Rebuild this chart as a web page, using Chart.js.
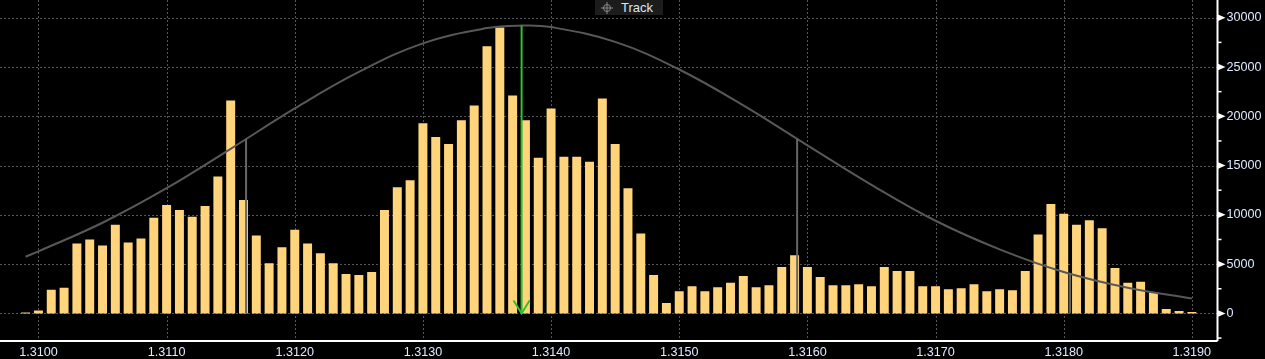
<!DOCTYPE html>
<html><head><meta charset="utf-8">
<script src="https://cdn.jsdelivr.net/npm/chart.js@4.4.0/dist/chart.umd.min.js"></script>
<style>
html,body{margin:0;padding:0;background:#000;overflow:hidden}
#wrap{position:relative;width:1265px;height:359px}
#track{position:absolute;left:595px;top:0;width:68px;height:15px;background:#1c1c1c;font:13px "Liberation Sans",Arial,sans-serif;color:#dfe6ef;line-height:15px}
#track svg{position:absolute;left:5px;top:1px}
#track span{position:absolute;left:26px;top:0}
</style></head><body>
<div id="wrap"><canvas id="c" width="1265" height="359"></canvas>
<div id="track"><svg width="14" height="14" viewBox="0 0 14 14"><circle cx="7" cy="7" r="3.5" fill="none" stroke="#8a8a8a" stroke-width="1"/><line x1="7" y1="1" x2="7" y2="13" stroke="#8a8a8a" stroke-width="1"/><line x1="1" y1="7" x2="13" y2="7" stroke="#8a8a8a" stroke-width="1"/></svg><span>Track</span></div></div>
<script>
const prices = [1.3099,
 1.3100,1.3101,1.3102,1.3103,1.3104,1.3105,1.3106,1.3107,1.3108,1.3109,
 1.3110,1.3111,1.3112,1.3113,1.3114,1.3115,1.3116,1.3117,1.3118,1.3119,
 1.3120,1.3121,1.3122,1.3123,1.3124,1.3125,1.3126,1.3127,1.3128,1.3129,
 1.3130,1.3131,1.3132,1.3133,1.3134,1.3135,1.3136,1.3137,1.3138,1.3139,
 1.3140,1.3141,1.3142,1.3143,1.3144,1.3145,1.3146,1.3147,1.3148,1.3149,
 1.3150,1.3151,1.3152,1.3153,1.3154,1.3155,1.3156,1.3157,1.3158,1.3159,
 1.3160,1.3161,1.3162,1.3163,1.3164,1.3165,1.3166,1.3167,1.3168,1.3169,
 1.3170,1.3171,1.3172,1.3173,1.3174,1.3175,1.3176,1.3177,1.3178,1.3179,
 1.3180,1.3181,1.3182,1.3183,1.3184,1.3185,1.3186,1.3187,1.3188,1.3189,
 1.3190];
const volumes = [100,
 300,2400,2600,7100,7500,6900,9000,7200,7600,9700,
 11000,10500,9800,10900,13900,21600,11500,7900,5100,6700,
 8500,7100,6100,5100,4000,3900,4200,10500,12800,13500,
 19300,17900,17200,19600,21100,27100,29000,22100,19600,15800,
 20800,15900,15900,15400,21800,17200,12700,8100,3900,1050,
 2250,2750,2250,2650,3100,3800,2650,2850,4700,5900,
 4700,3700,2850,2850,2950,2750,4700,4300,4300,2750,
 2750,2450,2550,2950,2250,2450,2350,4300,8000,11100,
 10100,9000,9450,8650,4600,3100,3200,2150,450,250,
 150];
const curveX = [1.3099,1.3100,1.3105,1.3110,1.3115,1.3120,1.3125,1.3130,1.3135,1.31377,1.3140,1.3145,1.3150,1.3155,1.3160,1.3165,1.3170,1.3175,1.3180,1.3185,1.3190];
const curveY = [5750,6300,9200,12700,16700,20800,24500,27400,28950,29200,29050,27550,24750,21100,17050,13050,9400,6500,4200,2600,1520];
const sigmaX = [1.31162,1.31592,1.31805];
const sigmaY = [17700,17700,4100];
const meanX = 1.31377, meanY = 29200;
const xTicks = [1.3100,1.3110,1.3120,1.3130,1.3140,1.3150,1.3160,1.3170,1.3180,1.3190];
const yTicks = [-2500,0,2500,5000,7500,10000,12500,15000,17500,20000,22500,25000,27500,30000];

const FONT = {family:'"Liberation Sans", Arial, sans-serif', size:12.6};
const TXT = '#dfeaff';

function zeroPad(s){s.paddingTop=0;s.paddingBottom=0;s.paddingLeft=0;s.paddingRight=0;}

const deco = {
  id:'deco',
  beforeDatasetsDraw(chart){
    const {ctx, chartArea:a, scales:{x,y}} = chart;
    ctx.save();
    ctx.strokeStyle='#555'; ctx.lineWidth=1; ctx.setLineDash([2,2]);
    xTicks.forEach(v=>{const px=Math.round(x.getPixelForValue(v))+0.5;ctx.beginPath();ctx.moveTo(px,a.top);ctx.lineTo(px,a.bottom+3);ctx.stroke();});
    yTicks.filter(v=>v%5000===0).forEach(v=>{const py=Math.round(y.getPixelForValue(v))+0.5;ctx.beginPath();ctx.moveTo(a.left,py);ctx.lineTo(a.right,py);ctx.stroke();});
    ctx.restore();
  },
  afterDatasetsDraw(chart){
    const {ctx, scales:{x,y}} = chart;
    ctx.save();
    ctx.strokeStyle='#666'; ctx.lineWidth=2;
    sigmaX.forEach((v,i)=>{const px=x.getPixelForValue(v);ctx.beginPath();ctx.moveTo(px,y.getPixelForValue(0));ctx.lineTo(px,y.getPixelForValue(sigmaY[i]));ctx.stroke();});
    const mx=x.getPixelForValue(meanX), y0=y.getPixelForValue(0), yt=y.getPixelForValue(meanY);
    ctx.strokeStyle='#2fbf2f'; ctx.lineWidth=2;
    ctx.beginPath();ctx.moveTo(mx,yt);ctx.lineTo(mx,y0);ctx.stroke();
    ctx.beginPath();ctx.moveTo(mx-8,y0-13);ctx.lineTo(mx,y0);ctx.lineTo(mx+8,y0-13);ctx.stroke();
    ctx.restore();
  },
  afterDraw(chart){
    const {ctx, chartArea:a, scales:{y}} = chart;
    ctx.save();
    ctx.strokeStyle='#fff'; ctx.fillStyle='#fff'; ctx.lineWidth=2;
    ctx.beginPath();ctx.moveTo(0,a.bottom);ctx.lineTo(a.right,a.bottom);ctx.stroke();
    ctx.beginPath();ctx.moveTo(a.right,0);ctx.lineTo(a.right,a.bottom);ctx.stroke();
    ctx.lineWidth=1.5;
    yTicks.forEach(v=>{
      const py=y.getPixelForValue(v);
      if(v%5000===0){ctx.beginPath();ctx.moveTo(a.right,py-3.5);ctx.lineTo(a.right+8,py);ctx.lineTo(a.right,py+3.5);ctx.closePath();ctx.fill();}
      else{ctx.beginPath();ctx.moveTo(a.right,py);ctx.lineTo(a.right+4,py);ctx.stroke();}
    });
    ctx.restore();
  }
};

new Chart(document.getElementById('c'),{
  data:{datasets:[
    {type:'line',data:curveX.map((v,i)=>({x:v,y:curveY[i]})),borderColor:'#585858',borderWidth:2,pointRadius:0,tension:0.4,order:0},
    {type:'bar',data:prices.map((v,i)=>({x:v,y:volumes[i]})),backgroundColor:'#ffd47a',categoryPercentage:1,barPercentage:0.7,order:1}
  ]},
  options:{
    responsive:false,animation:false,
    layout:{padding:0},
    plugins:{legend:{display:false},tooltip:{enabled:false}},
    scales:{
      x:{type:'linear',min:1.3097,max:1.31920,offset:false,
        grid:{display:false,drawTicks:false,offset:false},border:{display:false},
        afterBuildTicks:s=>{s.ticks=xTicks.map(v=>({value:v}));},
        afterFit:s=>{s.height=18;zeroPad(s);},
        ticks:{color:TXT,font:FONT,padding:4,maxRotation:0,autoSkip:false,callback:v=>Number(v).toFixed(4)}},
      y:{type:'linear',position:'right',min:-2800,max:31800,
        grid:{display:false,drawTicks:false},border:{display:false},
        afterBuildTicks:s=>{s.ticks=yTicks.map(v=>({value:v}));},
        afterFit:s=>{s.width=47.5;zeroPad(s);},
        ticks:{color:TXT,font:FONT,padding:9,autoSkip:false,callback:v=>(v%5000===0?String(v):'')}}
    }
  },
  plugins:[deco]
});
</script></body></html>
